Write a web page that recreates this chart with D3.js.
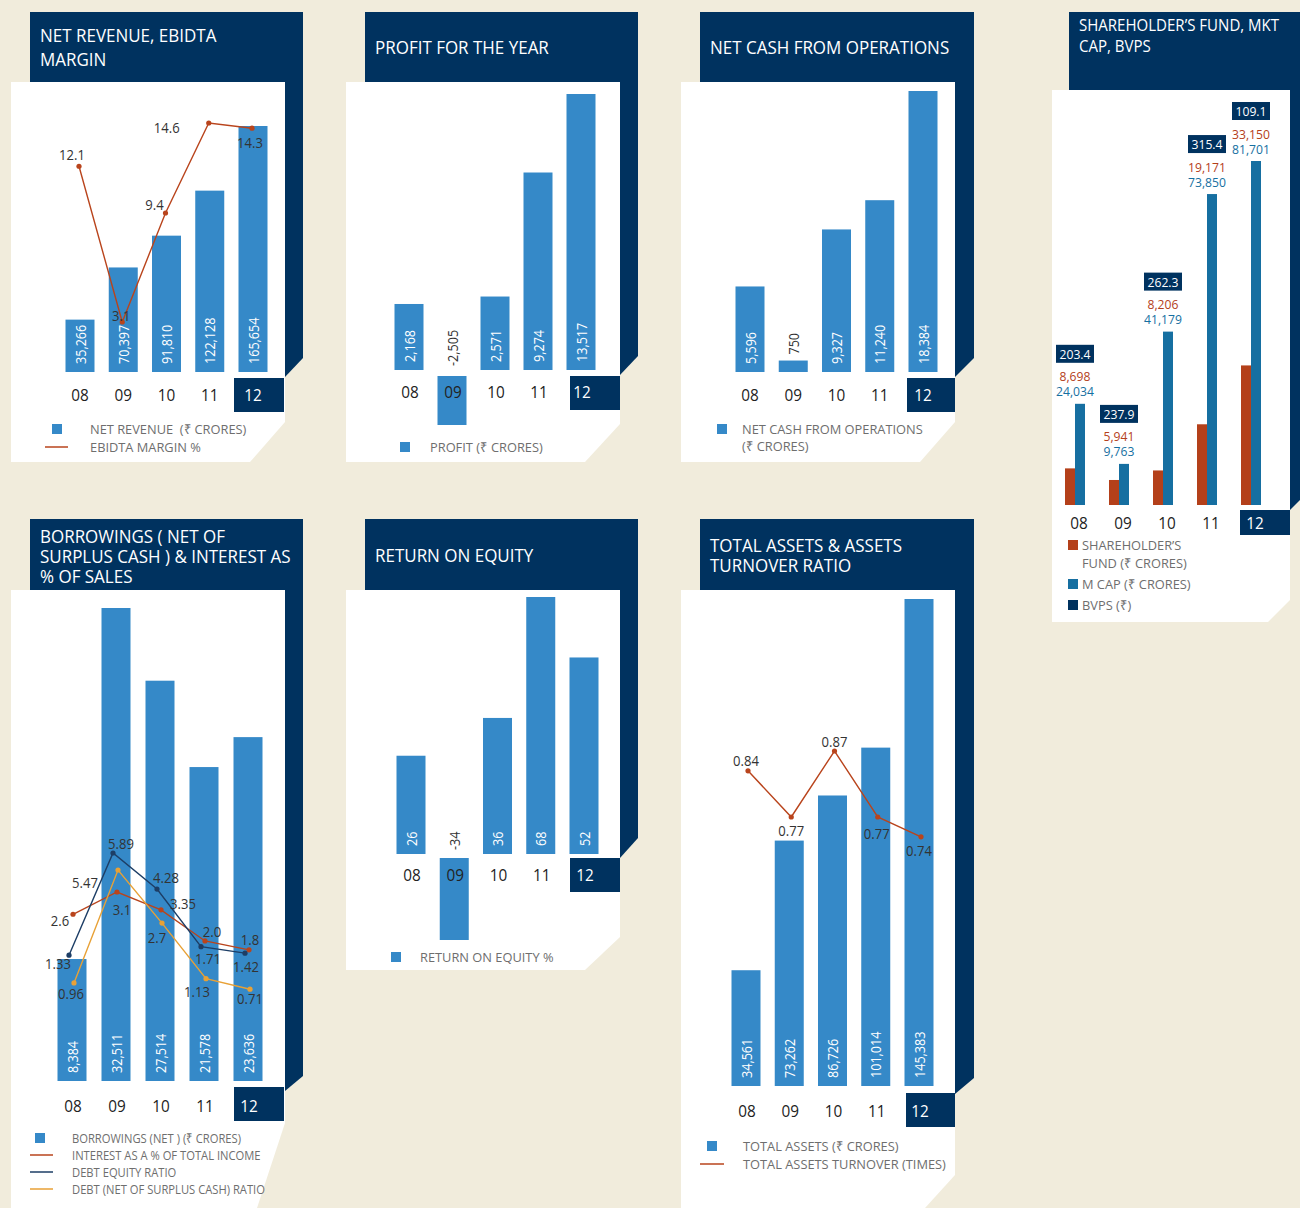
<!DOCTYPE html>
<html>
<head>
<meta charset="utf-8">
<script src="https://cdn.jsdelivr.net/npm/d3@7"></script>
<style>
body { margin: 0; background: #F1ECDC; }
svg { display: block; font-family: "Open Sans", sans-serif; }
svg text { white-space: pre; }
</style>
</head>
<body>
<div id="chart"></div>
<script>
// data
var years = ["08", "09", "10", "11", "12"];
var netRevenue = [35266, 70397, 91810, 122128, 165654];
var ebitdaMargin = [12.1, 3.1, 9.4, 14.6, 14.3];
var profit = [2168, -2505, 2571, 9274, 13517];
var netCash = [5596, 750, 9327, 11240, 18384];
var shareholderFund = [8698, 5941, 8206, 19171, 33150];
var marketCap = [24034, 9763, 41179, 73850, 81701];
var bvps = ["203.4", "237.9", "262.3", "315.4", "109.1"];
var borrowings = [8384, 32511, 27514, 21578, 23636];
var interestPct = [2.6, 3.1, 2.7, 2.0, 1.8];
var debtEquity = [1.33, 5.89, 4.28, 1.71, 1.42];
var debtNetRatio = [0.96, 5.47, 3.35, 1.13, 0.71];
var roe = [26, -34, 36, 68, 52];
var totalAssets = [34561, 73262, 86726, 101014, 145383];
var assetTurnover = [0.84, 0.77, 0.87, 0.77, 0.74];

var width = 1300, height = 1208;
var NAVY = "#00325F", BLUE = "#3589C8", RED = "#B9441C", GOLD = "#E8A136",
    DEBT = "#1D3E66", SF = "#B4401A", MCAP = "#166FA1", TXT = "#333", LEG = "#6e6e6e";

var locale = d3.formatLocale({decimal: ".", thousands: ",", grouping: [3], currency: ["", ""], minus: "-"});
var fmt = locale.format(",");

var svg = d3.select("#chart").append("svg")
  .attr("width", width)
  .attr("height", height);

svg.append("rect").attr("width", width).attr("height", height).attr("fill", "#F1ECDC");

//panel frame: navy title block with strip, white card, navy box behind "12"
function frame(navy, white, box) {
  svg.append("polygon").attr("points", navy.join(" ")).attr("fill", NAVY);
  svg.append("polygon").attr("points", white.join(" ")).attr("fill", "#fff");
  svg.append("rect").attr("x", box[0]).attr("y", box[1])
    .attr("width", box[2]).attr("height", box[3]).attr("fill", NAVY);
}

function title(x, y, lines, size, gap) {
  lines.forEach(function(t, i) {
    svg.append("text").attr("class", "ttl")
      .attr("x", x).attr("y", y + i * gap)
      .attr("dominant-baseline", "central")
      .attr("fill", "#fff").style("font-size", size + "px")
      .text(t);
  });
}

function yearLabels(x, y, dx) {
  svg.append("g").selectAll("text")
    .data(years)
    .enter().append("text")
    .attr("x", function(d) { return x(d) + (dx || 0); })
    .attr("y", y)
    .attr("text-anchor", "middle")
    .attr("dominant-baseline", "central")
    .attr("fill", function(d, i) { return i == years.length - 1 ? "#fff" : "#222"; })
    .style("font-size", "17px")
    .text(function(d) { return d; });
}

//bars with rotated value labels; negative values hang below the label row
function bars(x, y, yNeg, data, base, negBase) {
  var g = svg.append("g");
  g.selectAll("rect")
    .data(data)
    .enter().append("rect")
    .attr("x", function(d, i) { return x(years[i]) - 14.5; })
    .attr("width", 29)
    .attr("y", function(d) { return d >= 0 ? y(d) : negBase; })
    .attr("height", function(d) { return d >= 0 ? base - y(d) : yNeg(d) - negBase; })
    .attr("fill", BLUE);
  g.selectAll("text")
    .data(data)
    .enter().append("text")
    .attr("transform", function(d, i) {
      var short = d < 0 || base - y(d) < 40;
      var ty = d < 0 ? base - 4 : (short ? y(d) - 6 : base - 8);
      return "translate(" + x(years[i]) + "," + ty + ") rotate(-90)";
    })
    .attr("dominant-baseline", "central")
    .attr("fill", function(d) { return (d < 0 || base - y(d) < 40) ? TXT : "#fff"; })
    .style("font-size", "14px")
    .text(function(d) { return fmt(d); });
}

function line(x, y, data, color, dx, offsets) {
  var g = svg.append("g");
  var pts = data.map(function(d, i) { return [x(years[i]) + dx, y(d)]; });
  g.append("path")
    .attr("d", d3.line()(pts))
    .attr("fill", "none").attr("stroke", color).attr("stroke-width", 1.4);
  g.selectAll("circle")
    .data(pts)
    .enter().append("circle")
    .attr("cx", function(p) { return p[0]; })
    .attr("cy", function(p) { return p[1]; })
    .attr("r", 2.6).attr("fill", color);
  g.selectAll("text")
    .data(data)
    .enter().append("text")
    .attr("x", function(d, i) { return pts[i][0] + offsets[i][0]; })
    .attr("y", function(d, i) { return pts[i][1] + offsets[i][1]; })
    .attr("text-anchor", "middle")
    .attr("dominant-baseline", "central")
    .attr("fill", TXT)
    .style("font-size", "14.5px")
    .text(function(d) { return d3.format(".2~f")(d).indexOf(".") < 0 ? d.toFixed(1) : String(d); });
}

function legendSquare(x, y, color, lines, tx, gap, cls) {
  svg.append("rect").attr("x", x).attr("y", y - 5).attr("width", 10).attr("height", 10).attr("fill", color);
  lines.forEach(function(t, i) {
    svg.append("text").attr("class", cls || "leg")
      .attr("x", tx).attr("y", y + i * gap)
      .attr("dominant-baseline", "central")
      .attr("fill", LEG).style("font-size", "13.5px")
      .text(t);
  });
}

function legendLine(x1, x2, y, color, text, tx, cls) {
  svg.append("line").attr("x1", x1).attr("x2", x2).attr("y1", y).attr("y2", y)
    .attr("stroke", color).attr("stroke-width", 1.5);
  svg.append("text").attr("class", cls || "leg")
    .attr("x", tx).attr("y", y)
    .attr("dominant-baseline", "central")
    .attr("fill", LEG).style("font-size", "13.5px")
    .text(text);
}

// ---------- Net revenue, EBIDTA margin
frame([[30,12],[303,12],[303,358],[285,377],[30,377]],
      [[11,82],[285,82],[285,422],[250,462],[11,462]], [234,378,50,34]);
title(40, 35, ["NET REVENUE, EBIDTA", "MARGIN"], 17.5, 24);
var x1 = d3.scalePoint().domain(years).range([80, 253]);
var y1 = d3.scaleLinear().domain([0, 165654]).range([372, 126]);
var y1m = d3.scaleLinear().domain([3.1, 14.6]).range([322, 123]);
bars(x1, y1, null, netRevenue, 372, 376);
line(x1, y1m, ebitdaMargin, RED, -1, [[-7,-12],[-1,-7],[-11,-8],[-42,4],[-2,14]]);
yearLabels(x1, 394);
legendSquare(52, 429, BLUE, ["NET REVENUE  (₹ CRORES)"], 90, 0);
legendLine(45, 68, 447, RED, "EBIDTA MARGIN %", 90);

// ---------- Profit for the year
frame([[365,12],[638,12],[638,356],[620,375],[365,375]],
      [[346,82],[620,82],[620,424],[585,462],[346,462]], [570,376,50,34]);
title(375, 47, ["PROFIT FOR THE YEAR"], 17.5, 24);
var x2 = d3.scalePoint().domain(years).range([409, 581]);
var y2 = d3.scaleLinear().domain([-1400, 13517]).range([370, 94]);
var y2n = d3.scaleLinear().domain([0, -2505]).range([376, 425]);
bars(x2, y2, y2n, profit, 370, 376);
yearLabels(x2, 391, 1);
legendSquare(400, 447, BLUE, ["PROFIT (₹ CRORES)"], 430, 0);

// ---------- Net cash from operations
frame([[700,12],[974,12],[974,358],[955,377],[700,377]],
      [[681,82],[955,82],[955,422],[920,462],[681,462]], [907,378,48,34]);
title(710, 47, ["NET CASH FROM OPERATIONS"], 17.5, 24);
var x3 = d3.scalePoint().domain(years).range([750, 923]);
var y3 = d3.scaleLinear().domain([0, 18384]).range([372, 91]);
bars(x3, y3, null, netCash, 372, 376);
yearLabels(x3, 394);
legendSquare(717, 429, BLUE, ["NET CASH FROM OPERATIONS", "(₹ CRORES)"], 742, 17);

// ---------- Shareholder's fund, market cap, BVPS
frame([[1069,12],[1300,12],[1300,500],[1290,510],[1069,510]],
      [[1052,90],[1290,90],[1290,600],[1268,622],[1052,622]], [1240,510,50,25]);
title(1079, 25, ["SHAREHOLDER’S FUND, MKT", "CAP, BVPS"], 15.5, 21);
var x4 = d3.scalePoint().domain(years).range([1075, 1251]);
var y4 = d3.scaleLinear().domain([0, 81701]).range([505, 161]);
var g4 = svg.append("g");
g4.selectAll(".sf").data(shareholderFund).enter().append("rect")
  .attr("x", function(d, i) { return x4(years[i]) - 10; })
  .attr("y", function(d) { return y4(d); })
  .attr("width", 10).attr("height", function(d) { return 505 - y4(d); })
  .attr("fill", SF);
g4.selectAll(".mc").data(marketCap).enter().append("rect")
  .attr("x", function(d, i) { return x4(years[i]); })
  .attr("y", function(d) { return y4(d); })
  .attr("width", 10).attr("height", function(d) { return 505 - y4(d); })
  .attr("fill", MCAP);
marketCap.forEach(function(d, i) {
  var cx = x4(years[i]), top = y4(d);
  g4.append("text").attr("x", cx).attr("y", top - 12.5)
    .attr("text-anchor", "middle").attr("dominant-baseline", "central")
    .attr("fill", MCAP).style("font-size", "13.5px").text(fmt(d));
  g4.append("text").attr("x", cx).attr("y", top - 27.5)
    .attr("text-anchor", "middle").attr("dominant-baseline", "central")
    .attr("fill", SF).style("font-size", "13.5px").text(fmt(shareholderFund[i]));
  g4.append("rect").attr("x", cx - 19).attr("y", top - 59).attr("width", 38).attr("height", 18)
    .attr("fill", NAVY);
  g4.append("text").attr("x", cx).attr("y", top - 50)
    .attr("text-anchor", "middle").attr("dominant-baseline", "central")
    .attr("fill", "#fff").style("font-size", "13.5px").text(bvps[i]);
});
yearLabels(x4, 522, 4);
legendSquare(1068, 545, SF, ["SHAREHOLDER’S", "FUND (₹ CRORES)"], 1082, 18);
legendSquare(1068, 584, MCAP, ["M CAP (₹ CRORES)"], 1082, 0);
legendSquare(1068, 605, NAVY, ["BVPS (₹)"], 1082, 0);

// ---------- Borrowings
frame([[30,519],[303,519],[303,1076],[285,1091],[30,1091]],
      [[11,590],[285,590],[285,1123],[257,1208],[11,1208]], [234,1087,50,34]);
title(40, 536, ["BORROWINGS ( NET OF", "SURPLUS CASH ) & INTEREST AS", "% OF SALES"], 17.5, 20);
var x5 = d3.scalePoint().domain(years).range([72, 248]);
var y5 = d3.scaleLinear().domain([0, 32511]).range([1081, 608]);
var y5i = d3.scaleLinear().domain([0, 3.1]).range([1030, 892]);
var y5d = d3.scaleLinear().domain([0, 5.89]).range([985, 853]);
var y5n = d3.scaleLinear().domain([0, 5.47]).range([1007, 870]);
bars(x5, y5, null, borrowings, 1081, 1085);
line(x5, y5i, interestPct, RED, 1, [[-13,6],[5,17],[-4,28],[7,-9],[1,-10]]);
line(x5, y5d, debtEquity, DEBT, -3, [[-11,8],[8,-10],[9,-12],[7,12],[1,13]]);
line(x5, y5n, debtNetRatio, GOLD, 2, [[-3,11],[-33,12],[21,-20],[-9,13],[0,9]]);
yearLabels(x5, 1105, 1);
legendSquare(35, 1138, BLUE, ["BORROWINGS (NET ) (₹ CRORES)"], 72, 0, "leg2");
legendLine(30, 53, 1155, RED, "INTEREST AS A % OF TOTAL INCOME", 72, "leg2");
legendLine(30, 53, 1172, DEBT, "DEBT EQUITY RATIO", 72, "leg2");
legendLine(30, 53, 1189, GOLD, "DEBT (NET OF SURPLUS CASH) RATIO", 72, "leg2");

// ---------- Return on equity
frame([[365,519],[638,519],[638,838],[620,858],[365,858]],
      [[346,590],[620,590],[620,937],[585,970],[346,970]], [570,858,50,34]);
title(375, 555, ["RETURN ON EQUITY"], 17.5, 24);
var x6 = d3.scalePoint().domain(years).range([411, 584]);
var y6 = d3.scaleLinear().domain([0, 68]).range([854, 597]);
var y6n = d3.scaleLinear().domain([0, -34]).range([858, 940]);
bars(x6, y6, y6n, roe, 854, 858);
yearLabels(x6, 874, 1);
legendSquare(391, 957, BLUE, ["RETURN ON EQUITY %"], 420, 0);

// ---------- Total assets & turnover
frame([[700,519],[974,519],[974,1078],[955,1094],[700,1094]],
      [[681,590],[955,590],[955,1175],[925,1208],[681,1208]], [906,1093,49,34]);
title(710, 545, ["TOTAL ASSETS & ASSETS", "TURNOVER RATIO"], 17.5, 20);
var x7 = d3.scalePoint().domain(years).range([746, 919]);
var y7 = d3.scaleLinear().domain([0, 145383]).range([1086, 599]);
var y7t = d3.scaleLinear().domain([0.77, 0.87]).range([817, 751]);
bars(x7, y7, null, totalAssets, 1086, 1090);
line(x7, y7t, assetTurnover, RED, 2, [[-2,-10],[0,13],[0,-10],[-1,16],[-2,14]]);
yearLabels(x7, 1110, 1);
legendSquare(707, 1146, BLUE, ["TOTAL ASSETS (₹ CRORES)"], 743, 0);
legendLine(700, 724, 1164, RED, "TOTAL ASSETS TURNOVER (TIMES)", 743);

//narrow every label a little, the source uses a condensed face
var squeeze = {ttl: 0.97, leg: 0.95, leg2: 0.83};
svg.selectAll("text").each(function() {
  var f = squeeze[this.getAttribute("class")] || 0.9;
  var len = this.getComputedTextLength();
  d3.select(this).attr("textLength", len * f).attr("lengthAdjust", "spacingAndGlyphs");
});
</script>
</body>
</html>
